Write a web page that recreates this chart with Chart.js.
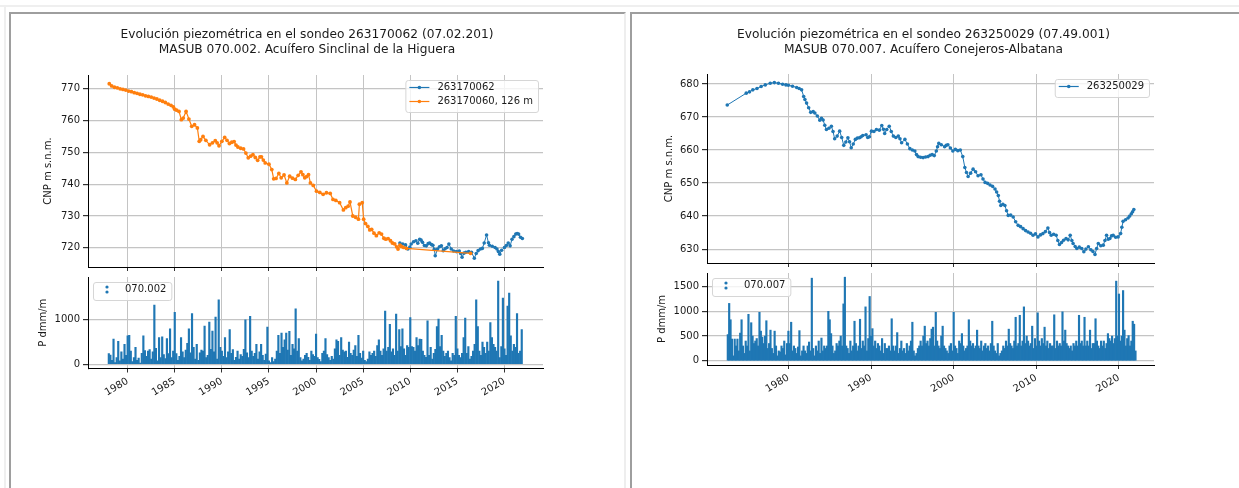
<!DOCTYPE html>
<html>
<head>
<meta charset="utf-8">
<script src="https://cdn.jsdelivr.net/npm/chart.js@4.4.1/dist/chart.umd.min.js"></script>
<style>
  body { margin: 0; background: #fff; width: 1239px; height: 488px; overflow: hidden; position: relative; }
  .line-h { position: absolute; left: 0; top: 5px; width: 1239px; height: 2px; background: #efefef; }
  .line-v { position: absolute; left: 4px; top: 5px; width: 2px; height: 483px; background: #efefef; }
  .panel { position: absolute; top: 12px; height: 490px; box-sizing: border-box; border-top: 2px solid #9e9e9e; border-left: 2px solid #9e9e9e; }
  .panel-left { left: 9px; width: 617px; border-right: 2px solid #eeeeee; }
  .panel-right { left: 630px; width: 609px; }
  canvas { position: absolute; }
</style>
</head>
<body>
<div class="line-h"></div>
<div class="line-v"></div>
<div class="panel panel-left"></div>
<div class="panel panel-right"></div>
<canvas id="levelLeft" width="614" height="256" style="left:0px;top:18px"></canvas>
<canvas id="rainLeft" width="614" height="150" style="left:0px;top:270px"></canvas>
<canvas id="levelRight" width="583" height="256" style="left:632px;top:18px"></canvas>
<canvas id="rainRight" width="583" height="150" style="left:632px;top:266px"></canvas>
<script>
// sondeo 263170062 / 263170060 (MASUB 070.002)
const titleLeft = ["Evolución piezométrica en el sondeo 263170062 (07.02.201)", "MASUB 070.002. Acuífero Sinclinal de la Higuera"];
const labelsLeft = ["263170062", "263170060, 126 m", "070.002"];

const years062 = [2008.9, 2009.2, 2009.5, 2009.75, 2009.95, 2010.1, 2010.35, 2010.6, 2010.8, 2011.0, 2011.15, 2011.3, 2011.5, 2011.7, 2011.9, 2012.05, 2012.25, 2012.4, 2012.55, 2012.65, 2012.9, 2013.1, 2013.3, 2013.5, 2013.7, 2013.9, 2014.1, 2014.35, 2014.6, 2014.9, 2015.2, 2015.35, 2015.5, 2015.7, 2015.9, 2016.2, 2016.5, 2016.8, 2017.0, 2017.2, 2017.45, 2017.65, 2017.85, 2018.1, 2018.3, 2018.4, 2018.7, 2019.0, 2019.2, 2019.35, 2019.5, 2019.7, 2020.0, 2020.2, 2020.4, 2020.6, 2020.8, 2021.0, 2021.2, 2021.35, 2021.5, 2021.7, 2021.9];
const level062 = [721.5, 721.2, 720.9, 719.6, 720.2, 721.2, 721.9, 722.2, 721.4, 722.7, 722.4, 721.7, 720.7, 720.6, 721.3, 721.5, 721.0, 720.8, 719.5, 717.5, 719.6, 720.3, 720.6, 719.1, 719.7, 720.1, 721.2, 719.6, 719.0, 718.8, 719.0, 718.2, 717.0, 718.3, 718.6, 718.8, 718.6, 716.7, 718.2, 719.1, 719.6, 719.8, 721.5, 724.0, 721.6, 720.8, 720.5, 720.1, 719.6, 718.8, 718.0, 719.2, 720.1, 720.7, 721.5, 720.6, 722.7, 723.5, 724.3, 724.5, 724.3, 723.3, 722.9];

const years060 = [1978.05, 1978.3, 1978.6, 1978.9, 1979.2, 1979.5, 1979.8, 1980.1, 1980.4, 1980.7, 1981.0, 1981.3, 1981.6, 1981.9, 1982.2, 1982.5, 1982.8, 1983.1, 1983.4, 1983.7, 1984.0, 1984.3, 1984.6, 1984.85, 1985.0, 1985.2, 1985.45, 1985.7, 1985.9, 1986.2, 1986.5, 1986.8, 1987.1, 1987.4, 1987.6, 1987.75, 1988.0, 1988.3, 1988.7, 1989.0, 1989.3, 1989.5, 1989.7, 1990.0, 1990.3, 1990.55, 1990.8, 1991.05, 1991.3, 1991.5, 1991.7, 1992.0, 1992.3, 1992.55, 1992.8, 1993.05, 1993.3, 1993.55, 1993.8, 1994.05, 1994.2, 1994.4, 1994.6, 1995.0, 1995.3, 1995.5, 1995.75, 1996.05, 1996.3, 1996.6, 1996.9, 1997.2, 1997.5, 1997.8, 1998.1, 1998.4, 1998.6, 1998.8, 1999.0, 1999.2, 1999.4, 1999.7, 2000.05, 2000.4, 2000.75, 2001.1, 2001.5, 2001.8, 2002.1, 2002.5, 2002.9, 2003.15, 2003.4, 2003.6, 2003.9, 2004.2, 2004.5, 2004.6, 2004.9, 2005.05, 2005.25, 2005.5, 2005.7, 2005.9, 2006.15, 2006.4, 2006.7, 2006.95, 2007.2, 2007.4, 2007.65, 2007.9, 2008.1, 2008.35, 2008.55, 2008.7, 2008.9, 2009.05, 2009.3, 2009.6, 2016.4];
const level060 = [771.6, 770.9, 770.5, 770.3, 770.0, 769.8, 769.6, 769.3, 769.1, 768.8, 768.6, 768.3, 768.1, 767.8, 767.6, 767.4, 767.1, 766.8, 766.4, 766.1, 765.7, 765.2, 764.8, 764.3, 763.6, 763.3, 762.9, 760.3, 760.8, 762.9, 760.5, 758.2, 758.7, 757.7, 753.5, 754.0, 755.0, 753.8, 752.4, 753.0, 753.7, 753.0, 752.1, 753.5, 754.7, 753.8, 752.8, 753.2, 753.4, 752.3, 751.7, 751.3, 751.1, 749.8, 748.3, 748.8, 749.3, 748.4, 747.5, 748.6, 748.6, 747.6, 746.7, 746.3, 744.6, 741.7, 741.8, 743.4, 742.0, 742.9, 740.4, 742.5, 741.9, 741.5, 742.8, 743.9, 743.0, 742.0, 742.4, 743.0, 740.4, 739.6, 737.8, 737.4, 736.8, 737.3, 737.1, 735.2, 734.9, 734.2, 731.9, 732.6, 733.1, 734.4, 730.0, 729.6, 729.0, 733.7, 734.2, 729.0, 727.6, 726.7, 725.6, 725.8, 724.6, 723.8, 724.7, 724.3, 723.0, 722.7, 722.9, 722.2, 721.5, 721.2, 720.3, 719.6, 720.8, 720.4, 720.1, 719.8, 718.25];

// precipitacion 070.002, un valor cada dos meses desde 1978
const rainStartLeft = 1978.0;
const rain002 = [
  240, 210, 90, 570, 40, 150,   520, 80, 280, 120, 450, 200,   640, 650, 300, 60, 150, 380,   90, 140, 30, 250, 640, 310,
  180, 300, 330, 120, 280, 1330,   360, 80, 600, 150, 620, 220,   130, 580, 240, 800, 150, 300,   1170, 240, 90, 180, 600, 280,
  150, 320, 470, 800, 260, 1140,   380, 120, 450, 90, 260, 320,   300, 860, 150, 200, 950, 340,   750, 280, 1060, 120, 1450, 380,
  300, 180, 600, 150, 280, 780,   250, 330, 90, 160, 300, 120,   220, 180, 340, 1000, 260, 150,   1080, 300, 180, 250, 450, 120,
  280, 450, 200, 90, 230, 840,   80, 40, 150, 60, 120, 300,   650, 250, 700, 380, 550, 700,   320, 740, 200, 450, 350, 1250,
  300, 580, 150, 80, 120, 200,   250, 160, 90, 300, 220, 180,   680, 150, 110, 60, 250, 300,   580, 220, 150, 90, 180, 120,
  350, 550, 520, 200, 600, 320,   280, 300, 160, 500, 250, 200,   320, 420, 180, 650, 250, 140,   300, 90, 60, 120, 280, 200,
  250, 300, 180, 420, 550, 300,   200, 350, 1200, 300, 380, 900,   280, 350, 200, 1130, 300, 780,   400, 800, 350, 200, 420, 380,
  1050, 400, 380, 300, 600, 420,   570, 560, 300, 200, 160, 980,   200, 380, 120, 250, 340, 850,   1020, 400, 650, 300, 180, 250,
  300, 150, 80, 250, 200, 1080,   350, 200, 150, 250, 600, 1040,   250, 400, 120, 180, 300, 450,   1450, 850, 300, 200, 500, 380,
  250, 500, 300, 940, 600, 450,   380, 300, 1870, 150, 400, 1490,   350, 200, 1310, 1600, 640, 300,   450, 380, 1140, 250, 300, 780
];

// sondeo 263250029 (MASUB 070.007)
const titleRight = ["Evolución piezométrica en el sondeo 263250029 (07.49.001)", "MASUB 070.007. Acuífero Conejeros-Albatana"];
const labelsRight = ["263250029", "070.007"];

const years029 = [1972.6, 1974.9, 1975.3, 1975.7, 1976.2, 1976.7, 1977.2, 1977.8, 1978.3, 1978.8, 1979.3, 1979.7, 1980.0, 1980.5, 1981.0, 1981.3, 1981.6, 1981.85, 1982.0, 1982.2, 1982.45, 1982.7, 1983.0, 1983.2, 1983.5, 1983.8, 1984.0, 1984.2, 1984.4, 1984.6, 1984.9, 1985.2, 1985.4, 1985.6, 1985.9, 1986.2, 1986.45, 1986.7, 1986.95, 1987.2, 1987.4, 1987.6, 1987.85, 1988.1, 1988.35, 1988.6, 1988.8, 1989.0, 1989.4, 1989.6, 1989.8, 1990.05, 1990.35, 1990.65, 1991.0, 1991.3, 1991.5, 1991.65, 1991.9, 1992.2, 1992.45, 1992.7, 1993.0, 1993.3, 1993.5, 1993.7, 1994.1, 1994.4, 1994.7, 1995.0, 1995.3, 1995.5, 1995.7, 1996.0, 1996.3, 1996.6, 1996.9, 1997.15, 1997.4, 1997.65, 1997.9, 1998.05, 1998.2, 1998.5, 1998.9, 1999.1, 1999.3, 1999.6, 1999.9, 2000.2, 2000.5, 2000.8, 2001.1, 2001.35, 2001.55, 2001.75, 2002.05, 2002.35, 2002.65, 2002.95, 2003.3, 2003.55, 2003.8, 2004.1, 2004.4, 2004.7, 2005.0, 2005.2, 2005.4, 2005.55, 2005.7, 2005.95, 2006.2, 2006.4, 2006.6, 2006.9, 2007.2, 2007.5, 2007.8, 2008.1, 2008.4, 2008.7, 2009.0, 2009.3, 2009.6, 2009.9, 2010.2, 2010.5, 2010.8, 2011.1, 2011.4, 2011.6, 2011.8, 2012.1, 2012.4, 2012.6, 2012.8, 2013.05, 2013.3, 2013.6, 2013.85, 2014.1, 2014.3, 2014.45, 2014.7, 2014.9, 2015.2, 2015.5, 2015.75, 2016.0, 2016.3, 2016.6, 2016.85, 2017.1, 2017.3, 2017.5, 2017.8, 2018.1, 2018.3, 2018.5, 2018.7, 2018.9, 2019.1, 2019.3, 2019.6, 2019.9, 2020.2, 2020.35, 2020.5, 2020.8, 2021.1, 2021.3, 2021.5, 2021.65, 2021.8];
const level029 = [673.6, 677.2, 677.6, 678.2, 678.6, 679.2, 679.7, 680.2, 680.4, 680.2, 679.9, 679.7, 679.6, 679.3, 678.9, 678.6, 678.2, 676.2, 675.3, 674.2, 672.8, 671.4, 671.6, 671.2, 670.3, 669.0, 669.6, 669.1, 667.5, 666.2, 666.6, 667.2, 665.6, 663.4, 664.2, 665.7, 663.8, 661.4, 662.4, 663.7, 662.5, 660.7, 661.8, 663.2, 663.6, 663.7, 664.0, 664.4, 664.6, 663.8, 664.0, 665.7, 665.6, 666.2, 666.0, 667.4, 666.3, 665.0, 666.2, 667.2, 665.6, 664.2, 663.8, 664.2, 663.4, 662.2, 663.2, 661.8, 660.4, 660.0, 659.7, 658.6, 658.0, 657.8, 657.7, 657.9, 658.0, 658.4, 658.6, 658.3, 659.7, 661.0, 662.0, 661.6, 661.0, 661.4, 661.6, 660.6, 659.7, 660.2, 659.8, 660.0, 658.0, 654.7, 653.2, 652.0, 653.0, 654.2, 653.4, 652.2, 652.5, 651.2, 650.2, 649.9, 649.4, 649.0, 648.2, 647.3, 646.2, 644.5, 643.2, 643.6, 643.2, 641.6, 640.2, 640.3, 639.7, 638.3, 637.2, 636.8, 636.2, 635.6, 635.2, 634.8, 634.2, 634.6, 633.7, 634.3, 634.7, 635.3, 636.4, 635.0, 634.2, 634.5, 634.2, 632.6, 631.4, 632.0, 632.7, 633.2, 632.8, 634.2, 632.6, 631.7, 630.8, 630.2, 630.6, 630.2, 629.2, 630.0, 630.7, 629.8, 629.3, 628.4, 630.2, 631.7, 631.0, 631.2, 632.6, 634.2, 633.0, 633.2, 634.0, 634.2, 633.6, 633.7, 634.7, 636.6, 638.4, 638.9, 639.4, 640.0, 640.7, 641.3, 642.0];

// precipitacion 070.007, un valor cada dos meses desde sep. 1972
const rainStartRight = 1972 + 4 / 6;
const rain007 = [
  530, 1160,
  830, 440, 100, 440, 300, 440,   200, 560, 830, 300, 150, 400,   300, 940, 200, 770, 500, 350,   400, 450, 300, 980, 600, 480,
  350, 500, 810, 250, 350, 620,   250, 150, 600, 300, 100, 200,   180, 300, 250, 400, 120, 350,   600, 350, 780, 200, 300, 250,
  150, 280, 610, 100, 200, 300,   200, 150, 300, 380, 200, 1670,   250, 100, 300, 200, 400, 150,   460, 200, 300, 250, 300, 1000,
  830, 550, 300, 150, 200, 350,   300, 400, 500, 300, 1150, 1690,   300, 250, 150, 400, 200, 300,   800, 350, 200, 300, 840, 250,
  400, 300, 1090, 200, 450, 1300,   500, 650, 300, 400, 250, 350,   300, 200, 450, 150, 350, 250,   250, 300, 200, 850, 300, 200,
  300, 570, 150, 250, 400, 200,   250, 150, 350, 200, 300, 400,   780, 200, 100, 150, 250, 300,   400, 300, 500, 700, 350, 400,
  300, 450, 640, 680, 300, 980,   400, 300, 250, 500, 700, 300,   250, 200, 150, 300, 350, 200,   980, 300, 250, 150, 400, 350,
  550, 300, 200, 250, 300, 830,   400, 300, 350, 250, 300, 620,   300, 250, 400, 200, 300, 350,   250, 300, 200, 350, 800, 300,
  200, 150, 350, 100, 150, 200,   300, 250, 400, 300, 640, 350,   300, 250, 400, 880, 300, 350,   920, 300, 400, 1090, 350, 500,
  400, 300, 350, 700, 250, 450,   300, 970, 400, 300, 450, 350,   680, 300, 400, 250, 350, 300,   300, 930, 250, 400, 300, 350,
  300, 990, 400, 620, 350, 300,   250, 300, 200, 350, 300, 400,   300, 920, 350, 400, 300, 880,   300, 400, 300, 620, 250, 350,
  350, 850, 400, 300, 250, 400,   300, 400, 250, 350, 550, 450,   400, 500, 350, 450, 1610, 500,   1350, 400, 500, 1420, 620, 300,
  450, 510, 300, 400, 800, 740,
  200
];

const xTicksLeft = [1980, 1985, 1990, 1995, 2000, 2005, 2010, 2015, 2020];
const xTicksRight = [1980, 1990, 2000, 2010, 2020];
const yTicksLevelLeft = [720, 730, 740, 750, 760, 770];
const yTicksRainLeft = [0, 1000];
const yTicksLevelRight = [630, 640, 650, 660, 670, 680];
const yTicksRainRight = [0, 500, 1000, 1500];

const blue = "#1f77b4";
const orange = "#ff7f0e";
const gridColor = "#c4c4c4";
const textColor = "#1a1a1a";

Chart.defaults.font.family = "'DejaVu Sans', sans-serif";
Chart.defaults.font.size = 10;
Chart.defaults.color = textColor;

const toPoints = (xs, ys) => xs.map((x, i) => ({ x: x, y: ys[i] }));
const rainDates = (start, n) => Array.from({ length: n }, (_, i) => start + i / 6);

// figure title, centred on the figure and not on the axes (like suptitle)
const figTitle = {
  id: "figTitle",
  afterDraw(chart, args, opts) {
    if (!opts.lines) return;
    const ctx = chart.ctx;
    ctx.save();
    ctx.font = "12.2px 'DejaVu Sans'";
    ctx.fillStyle = textColor;
    ctx.textAlign = "center";
    ctx.textBaseline = "middle";
    opts.lines.forEach((line, i) => ctx.fillText(line, opts.x, opts.y + i * 15));
    ctx.restore();
  }
};

// legend drawn like matplotlib: box inside the axes, line+dot or two dots as handle
const mplLegend = {
  id: "mplLegend",
  afterDraw(chart, args, opts) {
    const ctx = chart.ctx;
    const area = chart.chartArea;
    const items = chart.data.datasets;
    ctx.save();
    ctx.font = "10px 'DejaVu Sans'";
    const textW = Math.max(...items.map(d => ctx.measureText(d.label).width));
    const w = 4 + 20 + 8 + textW + 5;
    const h = 18 + (items.length - 1) * 14;
    const x = opts.side === "right" ? area.right - 5 - w : area.left + 5;
    const y = area.top + 5;
    ctx.beginPath();
    ctx.roundRect(x + 0.5, y + 0.5, w, h, 2.5);
    ctx.fillStyle = "rgba(255,255,255,0.8)";
    ctx.fill();
    ctx.strokeStyle = "#d6d6d6";
    ctx.lineWidth = 1;
    ctx.stroke();
    items.forEach((d, i) => {
      const cy = y + 7.5 + i * 14;
      ctx.fillStyle = d.borderColor || d.backgroundColor;
      ctx.strokeStyle = d.borderColor || d.backgroundColor;
      if (d.legendIcon === "dots") {
        ctx.beginPath(); ctx.arc(x + 14, cy - 2.5, 1.6, 0, Math.PI * 2); ctx.fill();
        ctx.beginPath(); ctx.arc(x + 14, cy + 2.5, 1.6, 0, Math.PI * 2); ctx.fill();
      } else {
        ctx.lineWidth = 1.2;
        ctx.beginPath(); ctx.moveTo(x + 4, cy); ctx.lineTo(x + 24, cy); ctx.stroke();
        ctx.beginPath(); ctx.arc(x + 14, cy, 1.8, 0, Math.PI * 2); ctx.fill();
      }
      ctx.fillStyle = textColor;
      ctx.textBaseline = "middle";
      ctx.textAlign = "left";
      ctx.fillText(d.label, x + 32, cy);
    });
    ctx.restore();
  }
};

const fixedTicks = function (values) {
  return function (scale) {
    scale.ticks = values.map(v => ({ value: v }));
  };
};

const makeScales = function (o) {
  return {
    x: {
      type: "linear", min: o.xMin, max: o.xMax, offset: false,
      afterBuildTicks: fixedTicks(o.xTicks),
      afterFit: function (scale) { scale.height = o.xHeight; scale.paddingLeft = 0; scale.paddingRight = 0; },
      grid: { color: gridColor, lineWidth: 1, tickLength: 4, tickColor: "#333", offset: false },
      border: { color: "#000", width: 1 },
      ticks: { display: o.xLabels, autoSkip: false, minRotation: 30, maxRotation: 30, padding: 3, color: textColor, callback: v => String(v) }
    },
    y: {
      min: o.yMin, max: o.yMax,
      afterBuildTicks: fixedTicks(o.yTicks),
      afterFit: function (scale) { scale.width = o.yWidth; scale.paddingTop = 0; scale.paddingBottom = 0; },
      grid: { color: gridColor, lineWidth: 1.2, tickLength: 5, tickColor: "#333" },
      border: { color: "#000", width: 1 },
      ticks: { padding: 3, color: textColor, callback: v => String(v) },
      title: { display: true, text: o.yTitle, color: textColor, font: { size: 10 }, padding: { top: 4, bottom: 4 } }
    }
  };
};

const lineSet = function (label, xs, ys, color, order, width, radius) {
  return {
    label: label, data: toPoints(xs, ys), borderColor: color, backgroundColor: color,
    borderWidth: width, pointRadius: radius, pointBorderWidth: 0, pointHoverRadius: 0, order: order, legendIcon: "line"
  };
};

const barSet = function (label, start, values) {
  return {
    label: label, data: toPoints(rainDates(start, values.length), values), backgroundColor: blue,
    barThickness: 1.5, grouped: false, legendIcon: "dots"
  };
};

const drawLevelChart = function (id, title, datasets, o) {
  new Chart(document.getElementById(id), {
    type: "line",
    data: { datasets: datasets },
    options: {
      responsive: false, animation: false, devicePixelRatio: 1,
      layout: { padding: { left: o.padLeft, right: o.padRight, top: o.padTop, bottom: 0 } },
      scales: makeScales(o),
      plugins: {
        legend: { display: false }, tooltip: { enabled: false }, title: { display: false },
        figTitle: { lines: title, x: o.titleX, y: 16.5 },
        mplLegend: { side: "right" }
      }
    },
    plugins: [figTitle, mplLegend]
  });
};

const drawRainChart = function (id, datasets, o) {
  new Chart(document.getElementById(id), {
    type: "bar",
    data: { datasets: datasets },
    options: {
      responsive: false, animation: false, devicePixelRatio: 1,
      layout: { padding: { left: o.padLeft, right: o.padRight, top: 7, bottom: 0 } },
      scales: makeScales(o),
      plugins: { legend: { display: false }, tooltip: { enabled: false }, mplLegend: { side: "left" } }
    },
    plugins: [mplLegend]
  });
};

document.addEventListener("DOMContentLoaded", function () {
  drawLevelChart("levelLeft", titleLeft, [
    lineSet(labelsLeft[0], years062, level062, blue, 1, 1, 1.8),
    lineSet(labelsLeft[1], years060, level060, orange, 0, 1.2, 1.9)
  ], {
    xMin: 1975.79, xMax: 2024.09, xTicks: xTicksLeft, xLabels: false, xHeight: 7,
    yMin: 713.95, yMax: 774.35, yTicks: yTicksLevelLeft, yWidth: 50, yTitle: "CNP m s.n.m.",
    padLeft: 38, padRight: 71, padTop: 57, titleX: 307
  });
  drawRainChart("rainLeft", [barSet(labelsLeft[2], rainStartLeft, rain002)], {
    xMin: 1975.79, xMax: 2024.09, xTicks: xTicksLeft, xLabels: true, xHeight: 51.5,
    yMin: -93.5, yMax: 1963.5, yTicks: yTicksRainLeft, yWidth: 55, yTitle: "P dmm/m",
    padLeft: 33, padRight: 71
  });
  drawLevelChart("levelRight", titleRight, [
    lineSet(labelsRight[0], years029, level029, blue, 0, 1, 1.8)
  ], {
    xMin: 1970.15, xMax: 2024.24, xTicks: xTicksRight, xLabels: false, xHeight: 11,
    yMin: 625.8, yMax: 683.0, yTicks: yTicksLevelRight, yWidth: 48, yTitle: "CNP m s.n.m.",
    padLeft: 27, padRight: 61, padTop: 56, titleX: 291.5
  });
  drawRainChart("rainRight", [barSet(labelsRight[1], rainStartRight, rain007)], {
    xMin: 1970.15, xMax: 2024.24, xTicks: xTicksRight, xLabels: true, xHeight: 51,
    yMin: -84.5, yMax: 1774.5, yTicks: yTicksRainRight, yWidth: 55, yTitle: "P dmm/m",
    padLeft: 20, padRight: 61
  });
});
</script>
</body>
</html>
